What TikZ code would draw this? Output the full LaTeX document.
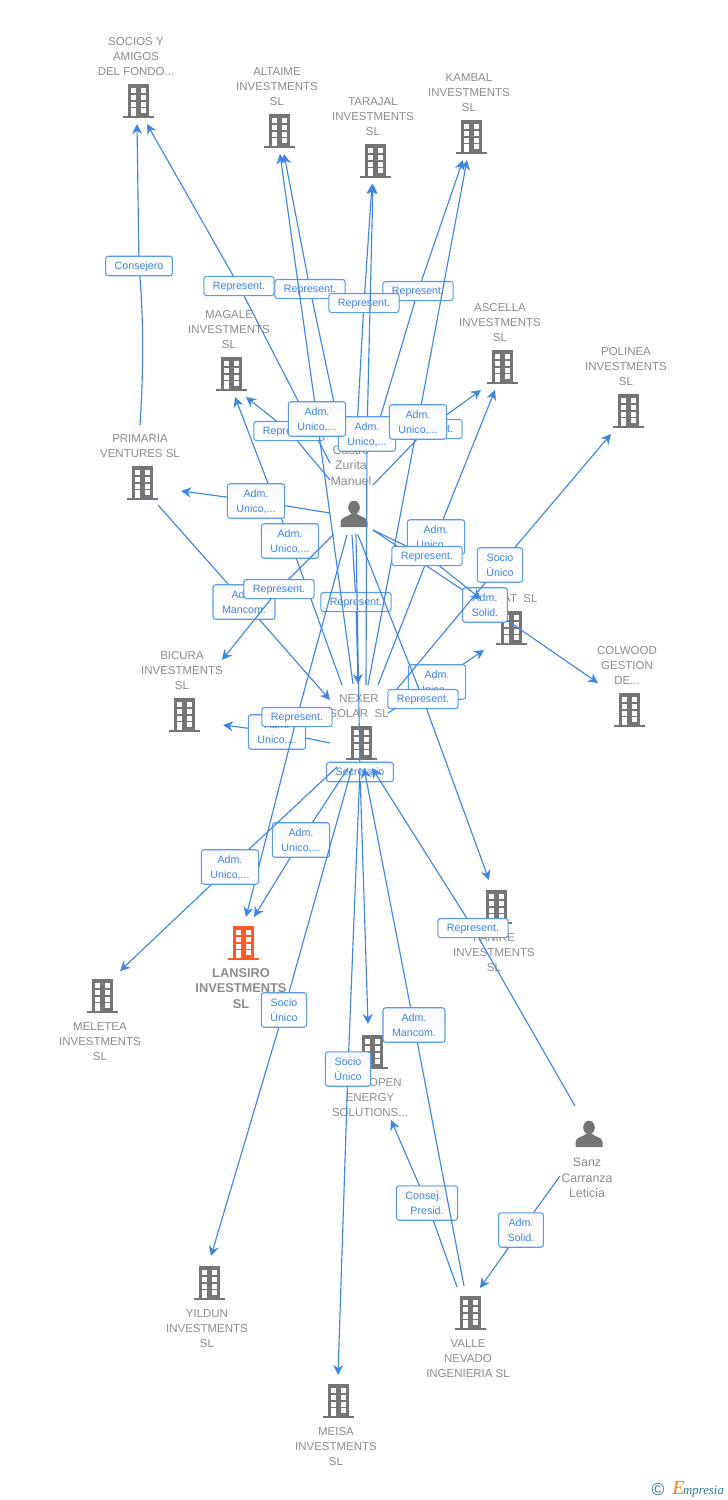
\documentclass[tikz,border=0pt]{standalone}
\usepackage{fontspec}
\setmainfont{Liberation Sans}
\newfontfamily\brandfont{Liberation Serif}
\usetikzlibrary{calc, arrows.meta}
\definecolor{iconcol}{HTML}{757575}
\definecolor{namecol}{HTML}{8C8C8C}
\definecolor{mainorange}{HTML}{FF5A26}
\definecolor{linkblue}{HTML}{3F86E2}
\definecolor{tagborder}{HTML}{5A9AE8}
\definecolor{brandteal}{HTML}{2F7390}
\newcommand{\more}{...}
\newcommand{\rep}{Represent.}
\newcommand{\admu}{Adm.\\Unico,...}
\newcommand{\admm}{Adm.\\Mancom.}
\newcommand{\adms}{Adm.\\Solid.}
\newcommand{\socu}{Socio\\Único}
\tikzset{>={Stealth[length=7.5pt,width=7.5pt]}}
\tikzset{
  hub/.style={inner sep=0pt, minimum size=0pt},
  nametxt/.style={inner sep=0pt, align=center, text=namecol, font=\fontsize{8.6}{11.25}\selectfont},
  link/.style={->, linkblue, line width=0.85pt, line join=round},
  tag/.style={draw=tagborder, line width=0.8pt, rounded corners=2pt, top color=black!2.5, bottom color=white,
    inner xsep=6.8pt, inner ysep=4.4pt, text depth=0pt, align=center, text=linkblue, font=\fontsize{8}{11.25}\selectfont},
  pics/bldg/.style={code={
    \fill[#1] (-10.5,-17) rectangle (10.5,15);
    \fill[#1] (-15,15) rectangle (16,17);
    \foreach \wx in {-7,3} \foreach \wy in {-13,-6,1} \fill[white] (\wx,\wy) rectangle ++(5,4.5);
    \fill[white] (-7,7) rectangle (-2,15);
    \fill[white] (3,7) rectangle (8,11.5);
  }},
  pics/person/.style={code={
    \fill[iconcol] (0,-6.5) ellipse (5.8 and 6.8);
    \fill[iconcol] (-13.5,13) -- (-13.5,8) .. controls (-13.5,3) and (-6,3) .. (-3,0) -- (3,0) .. controls (6,3) and (13.5,3) .. (13.5,8) -- (13.5,13) -- cycle;
  }}
}
\begin{document}
\begin{tikzpicture}[x=0.75pt, y=-0.75pt]
\path[use as bounding box, fill=white] (0,0) rectangle (728,1500);
% companies, label above the icon
\foreach \nm/\hx/\hy/\txt in {
  soc/138/101/{SOCIOS Y\\AMIGOS\\DEL FONDO\more},
  alt/279/131/{ALTAIME\\INVESTMENTS\\SL},
  tar/375/161/{TARAJAL\\INVESTMENTS\\SL},
  kam/471/137/{KAMBAL\\INVESTMENTS\\SL},
  mag/231/374/{MAGALE\\INVESTMENTS\\SL},
  asc/502/367/{ASCELLA\\INVESTMENTS\\SL},
  pol/628/411/{POLINEA\\INVESTMENTS\\SL},
  pri/142/483/{PRIMARIA\\VENTURES SL},
  bic/184/715/{BICURA\\INVESTMENTS\\SL},
  nex/361/743/{NEXER\\SOLAR\ \ SL},
  nat/511/628/{\hspace*{17pt}AT\ \ SL},
  col/629/710/{COLWOOD\\GESTION\\DE\more}}
{
  \node[hub] (\nm) at (\hx,\hy) {};
  \pic at (\nm) {bldg=iconcol};
  \node[nametxt, anchor=south] (\nm txt) at ($(\nm)+(-2,-25.5)$) {\txt};
}
% companies, label below the icon
\foreach \nm/\hx/\hy/\txt in {
  mel/102/996/{MELETEA\\INVESTMENTS\\SL},
  fan/496/907/{FANIRE\\INVESTMENTS\\SL},
  ope/372/1052/{\hspace*{23pt}OPEN\\ENERGY\\SOLUTIONS\more},
  yil/209/1283/{YILDUN\\INVESTMENTS\\SL},
  val/470/1313/{VALLE\\NEVADO\\INGENIERIA SL},
  mei/338/1401/{MEISA\\INVESTMENTS\\SL}}
{
  \node[hub] (\nm) at (\hx,\hy) {};
  \pic at (\nm) {bldg=iconcol};
  \node[nametxt, anchor=north] (\nm txt) at ($(\nm)+(-2,26)$) {\txt};
}
\node[hub] (lan) at (243,943) {};
\pic at (lan) {bldg=mainorange};
\node[nametxt, anchor=north, font=\fontsize{9.6}{11.6}\selectfont\bfseries] (lantxt) at ($(lan)+(-2,25)$) {LANSIRO\\INVESTMENTS\\SL};
\node[hub] (zur) at (354,514) {};
\pic at (zur) {person};
\node[nametxt, anchor=south, font=\fontsize{9.3}{11.4}\selectfont] (zurtxt) at ($(zur)+(-3,-28.5)$) {Castro\\Zurita\\Manuel};
\node[hub] (san) at (589,1134) {};
\pic at (san) {person};
\node[nametxt, anchor=north, font=\fontsize{9.3}{11.4}\selectfont] (santxt) at ($(san)+(-2,24)$) {Sanz\\Carranza\\Leticia};
% connectors: from, offset, to, offset, tag position, tag
\draw[link] ($(pri)+(-2,-58)$) .. controls (145,350) and (142,300) .. (139,266) -- ($(soc)+(-1,23)$);
\node[tag] (tagcons) at (139,266) {Consejero};
\foreach \src/\ax/\ay/\dst/\bx/\by/\lx/\ly/\txt [count=\i] in {
  zur/-2/21/nex/-3/-59/356/602/\rep,
  zur/2/20/ope/-4/-28/360/772/Secretario,
  zur/-24/-51/soc/9/23/239/286/\rep,
  zur/-11/-69/alt/5/23/310/289/\rep,
  zur/18/-69/kam/-8/23/418/291/\rep,
  zur/2/-69/tar/-3/23/364/303/\rep,
  nex/5/-58/tar/-2/23/367/434/\admu,
  zur/-24/-34/mag/15/23/289/431/\rep,
  zur/19/-29/asc/-21/23/427/429/\rep,
  nex/-8/-59/alt/1/23/317/419/\admu,
  nex/7/-58/kam/-4/23/418/422/\admu,
  nex/-19/-58/mag/4/23/290/541/\admu,
  zur/-24/-1/pri/39/8/256/501/\admu,
  pri/16/22/nex/-31/-43/244/602/\admm,
  zur/-20/20/bic/38/-55/279/589/\rep,
  nex/-31/0/bic/39/10/277/732/\admu,
  zur/-7/21/lan/3/-26/297/717/\rep,
  nex/-13/25/lan/11/-26/301/840/\admu,
  nex/-24/24/mel/18/-25/230/867/\admu,
  nex/-9/25/yil/2/-27/284/1010/\socu,
  nex/-1/25/mei/0/-26/348/1069/\socu,
  nex/17/-58/asc/-7/23/436/537/\admu,
  zur/19/16/col/-31/-27/485/605/\adms,
  zur/19/16/nat/-30/-29/427/556/\rep,
  nex/27/-30/nat/-27/22/437/682/\admu,
  nex/31/-48/pol/-17/23/500/565/\socu,
  zur/4/21/fan/-7/-27/423/699/\rep,
  san/-14/-28/nex/11/25/473/928/\rep,
  san/-29/42/val/10/-25/521/1230/\adms,
  val/-13/-26/ope/19/68/427/1203/{Consej. .\\Presid.},
  val/-6/-27/nex/3/25/414/1025/\admm}
{
  \draw[link] ($(\src)+(\ax,\ay)$) -- (\lx,\ly) -- ($(\dst)+(\bx,\by)$);
  \node[tag] (tag\i) at (\lx,\ly) {\txt};
}
\node[inner sep=0pt, text=brandteal, font=\fontsize{13}{13}\selectfont] (copymark) at (658,1489) {©};
\node[inner sep=0pt, anchor=west, text=brandteal, font=\fontsize{9.6}{11}\selectfont\brandfont\itshape] (brand) at (672,1489) {\textcolor{orange}{\fontsize{15}{15}\selectfont E}\kern-1pt mpresia};
\end{tikzpicture}
\end{document}
